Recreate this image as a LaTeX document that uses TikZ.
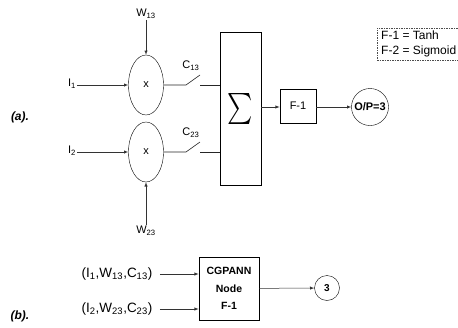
\documentclass[tikz,border=0pt]{standalone}
\usepackage{fontspec}
\setmainfont{Liberation Sans}
\usepackage{graphicx}
\usetikzlibrary{shapes,arrows,positioning}

\begin{document}
\begin{tikzpicture}[
    x=1pt, y=-1pt,
    mult/.style={ellipse, draw, minimum width=35pt, minimum height=60pt, inner sep=0pt, font=\fontsize{11}{13}\selectfont},
    block/.style={rectangle, draw, inner sep=0pt, line width=0.6pt},
    lbl/.style={inner sep=1pt, font=\fontsize{11}{13}\selectfont},
    arrow/.style={->, >=latex, color=black!80, line width=0.5pt},
    wire/.style={color=black!85, line width=0.6pt},
    tag/.style={font=\bfseries\itshape\fontsize{12}{14}\selectfont}
]
    \useasboundingbox (0,0) rectangle (458,327);

    % (a): two multipliers with their switches
    \node[mult] (m1) at (146,85) {x};
    \node[mult] (m2) at (146,152) {x};
    \node[lbl] (w13) at (146,14) {W\textsubscript{13}};
    \node[lbl] (w23) at (146,231) {W\textsubscript{23}};
    \node[lbl] (i1) at (72,84) {I\textsubscript{1}};
    \node[lbl] (i2) at (72,151) {I\textsubscript{2}};
    \node[lbl] (c13) at (191,66) {C\textsubscript{13}};
    \node[lbl] (c23) at (191,133) {C\textsubscript{23}};

    \draw[arrow] (w13) -- (m1);
    \draw[arrow] (w23) -- (m2);
    \draw[arrow] (i1.east |- m1) -- (m1.west);
    \draw[arrow] (i2.east |- m2) -- (m2.west);

    % summing block, activation and output
    \node[block, minimum width=41pt, minimum height=153pt] (sum) at (240.5,108.5) {\scalebox{2.4}[3.1]{$\sum$}};
    \node[block, minimum width=36pt, minimum height=34pt, font=\fontsize{11}{13}\selectfont] (f1) at (298,106) {F-1};
    \node[circle, draw, minimum size=37pt, inner sep=0pt, font=\bfseries\fontsize{11}{13}\selectfont] (op) at (370,107) {O/P=3};

    % switches
    \coordinate (s1a) at (186,85);
    \coordinate (s1t) at (200,75);
    \coordinate (s1b) at (200,85);
    \coordinate (s2a) at (186,152);
    \coordinate (s2t) at (200,142);
    \coordinate (s2b) at (200,152);
    \draw[wire] (m1.east) -- (s1a) -- (s1t);
    \draw[wire] (s1b) -- (s1b -| sum.west);
    \draw[wire] (m2.east) -- (s2a) -- (s2t);
    \draw[wire] (s2b) -- (s2b -| sum.west);

    \draw[arrow] (op.west -| sum.east) -- (op.west -| f1.west);
    \draw[arrow] (op.west -| f1.east) -- (op.west);

    % key
    \node[draw=black!70, dash pattern=on 1.5pt off 1pt, align=left, inner xsep=4pt, inner ysep=3pt, anchor=north west, font=\fontsize{12}{15}\selectfont] (key) at (377,28) {F-1 = Tanh\\F-2 = Sigmoid};

    % Labels
    \node[tag] (tga) at (20,117) {(a).};
    \node[tag] (tgb) at (20,316) {(b).};

    % (b): compact node
    \node[block, minimum width=60pt, minimum height=63pt, align=center, font=\bfseries\fontsize{10.5}{17.5}\selectfont] (cg) at (229,288.5) {CGPANN\\Node\\F-1};
    \node[font=\fontsize{13.5}{16}\selectfont] (in1) at (117,274) {(I\textsubscript{1},W\textsubscript{13},C\textsubscript{13})};
    \node[font=\fontsize{13.5}{16}\selectfont] (in2) at (117,309) {(I\textsubscript{2},W\textsubscript{23},C\textsubscript{23})};
    \node[circle, draw, minimum size=25pt, inner sep=0pt, font=\bfseries\fontsize{10}{12}\selectfont] (o3) at (327,288) {3};

    \draw[arrow] ([xshift=4pt]in1.east) -- (in1 -| cg.west);
    \draw[arrow] ([xshift=4pt]in2.east) -- (in2 -| cg.west);
    \draw[arrow] (cg) -- (o3);
\end{tikzpicture}
\end{document}
